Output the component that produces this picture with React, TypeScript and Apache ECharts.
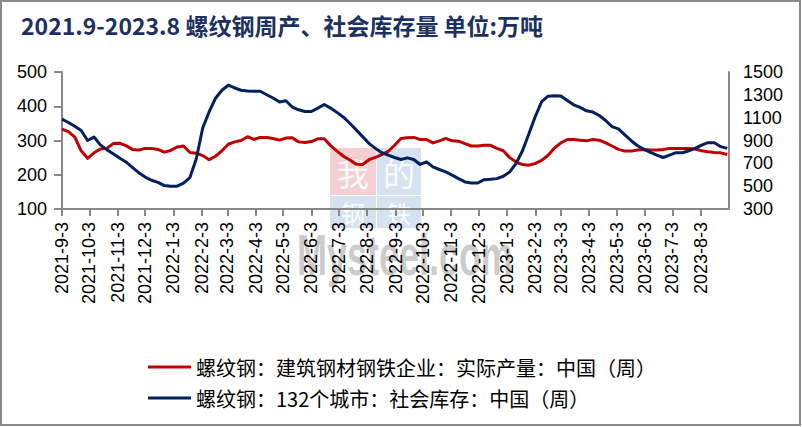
import React, { useEffect, useRef } from "react";
import * as echarts from "echarts";

// weekly values, first week = 2021-9-3
const PRODUCTION = [
  333, 326, 310, 270, 248, 264, 275, 277, 291, 292,
  285, 274, 272, 277, 277, 274, 266, 271, 281, 284,
  265, 263, 256, 244, 254, 270, 289, 296, 300, 311,
  303, 309, 309, 306, 301, 307, 308, 296, 294, 297,
  305, 305, 285, 269, 254, 243, 231, 230, 244, 251,
  259, 268, 286, 306, 308, 309, 303, 303, 293, 299,
  306, 299, 298, 291, 284, 284, 286, 286, 277, 270,
  250, 237, 230, 228, 233, 242, 257, 278, 293, 303,
  303, 301, 299, 303, 301, 293, 284, 274, 269, 269,
  272, 274, 272, 272, 274, 277, 277, 277, 277, 275,
  270, 267, 265, 264, 259,
];

const INVENTORY = [
  1087, 1058, 1025, 988, 900, 930, 862, 820, 784, 746,
  712, 664, 618, 580, 552, 533, 505, 499, 500, 526,
  575, 740, 1010, 1150, 1270, 1340, 1384, 1360, 1340, 1334,
  1331, 1331, 1301, 1272, 1237, 1248, 1193, 1169, 1154, 1154,
  1184, 1215, 1184, 1146, 1104, 1051, 993, 934, 875, 831,
  793, 772, 751, 734, 748, 734, 690, 713, 669, 646,
  625, 596, 566, 537, 528, 528, 557, 560, 566, 587,
  625, 700, 810, 960, 1110, 1240, 1288, 1293, 1290, 1251,
  1213, 1190, 1160, 1149, 1119, 1075, 1022, 1001, 949, 898,
  854, 822, 796, 772, 751, 772, 793, 793, 810, 831,
  860, 881, 881, 846, 831,
];

const X_LABELS = [
  "2021-9-3", "2021-10-3", "2021-11-3", "2021-12-3",
  "2022-1-3", "2022-2-3", "2022-3-3", "2022-4-3", "2022-5-3", "2022-6-3",
  "2022-7-3", "2022-8-3", "2022-9-3", "2022-10-3", "2022-11-3", "2022-12-3",
  "2023-1-3", "2023-2-3", "2023-3-3", "2023-4-3", "2023-5-3", "2023-6-3",
  "2023-7-3", "2023-8-3",
];

const SERIES_NAMES = [
  "螺纹钢：建筑钢材钢铁企业：实际产量：中国（周）",
  "螺纹钢：132个城市：社会库存：中国（周）",
];

const TITLE = "2021.9-2023.8 螺纹钢周产、社会库存量 单位:万吨";

// x axis runs in days counted from 2021-9-3
const DAY = 86400000;
const dayOf = (s: string) => {
  const [y, m, d] = s.split("-").map(Number);
  return Math.round((Date.UTC(y, m - 1, d) - Date.UTC(2021, 8, 3)) / DAY);
};

const WEEK_DAYS = PRODUCTION.map((_, i) => i * 7);
const TICK_DAYS = X_LABELS.map(dayOf);
const LABEL_BY_DAY: Record<number, string> = {};
X_LABELS.forEach((s) => (LABEL_BY_DAY[dayOf(s)] = s));

const AXIS_GRAY = "#888888";
const CJK = "'Noto Sans CJK SC', sans-serif";
const LATIN = "'Liberation Sans', Arial, sans-serif";

const App: React.FC = () => {
  const chartRef = useRef<HTMLDivElement | null>(null);

  useEffect(() => {
    if (!chartRef.current) return;
    const chart = echarts.init(chartRef.current, undefined, { renderer: "svg" });

    // watermark tile: coloured square with a pale character on it
    const wmBlock = (
      x: number, y: number, w: number, h: number,
      fill: string, ch: string, size: number
    ) => ({
      type: "group",
      z: -10,
      children: [
        { type: "rect", shape: { x, y, width: w, height: h }, style: { fill }, z: -10 },
        {
          type: "text",
          x: x + w / 2,
          y: y + h / 2,
          z: -9,
          style: {
            text: ch,
            fill: "rgba(255,255,255,0.9)",
            font: `${size}px ${CJK}`,
            lineHeight: size,
            align: "center",
            verticalAlign: "middle",
          },
        },
      ],
    });

    const option: echarts.EChartsOption = {
      animation: false,
      backgroundColor: "#ffffff",
      title: {
        text: TITLE,
        left: 16,
        top: 8,
        textStyle: {
          fontSize: 23,
          fontWeight: "bold",
          color: "#1c315f",
          fontFamily: CJK,
        },
      },
      grid: { left: 62, right: 73, top: 72, bottom: 218 },
      legend: {
        orient: "vertical",
        left: 143,
        top: 352,
        itemWidth: 43,
        itemHeight: 3,
        itemGap: 11,
        icon: "rect",
        selectedMode: false,
        data: SERIES_NAMES,
        textStyle: { fontSize: 20, lineHeight: 20, color: "#000", fontFamily: CJK },
      },
      xAxis: {
        type: "value",
        min: 0,
        max: dayOf("2023-9-3"),
        splitLine: { show: false },
        axisLine: { onZero: false, lineStyle: { color: AXIS_GRAY, width: 2 } },
        axisTick: {
          show: true,
          length: 7,
          customValues: TICK_DAYS,
          lineStyle: { color: AXIS_GRAY, width: 2 },
        } as any,
        axisLabel: {
          rotate: 90,
          margin: 13,
          fontSize: 18,
          color: "#000",
          fontFamily: LATIN,
          customValues: TICK_DAYS,
          formatter: (v: number) => LABEL_BY_DAY[Math.round(v)] ?? "",
        } as any,
      },
      yAxis: [
        {
          type: "value",
          min: 100,
          max: 500,
          interval: 100,
          splitLine: { show: false },
          axisLine: { show: true, lineStyle: { color: AXIS_GRAY, width: 2 } },
          axisTick: { show: true, length: 8, lineStyle: { color: AXIS_GRAY, width: 2 } },
          axisLabel: {
            margin: 15,
            fontSize: 18,
            color: "#000",
            fontFamily: LATIN,
            formatter: (v: number) => String(v),
          },
        },
        {
          type: "value",
          position: "right",
          min: 300,
          max: 1500,
          interval: 200,
          splitLine: { show: false },
          axisLine: { show: true, lineStyle: { color: AXIS_GRAY, width: 2 } },
          axisTick: { show: false },
          axisLabel: {
            margin: 14,
            fontSize: 18,
            color: "#000",
            fontFamily: LATIN,
            formatter: (v: number) => String(v),
          },
        },
      ],
      graphic: [
        wmBlock(330, 148, 46, 47, "rgba(226,120,128,0.35)", "我", 32),
        wmBlock(377, 148, 44, 47, "rgba(150,180,215,0.38)", "的", 32),
        wmBlock(330, 196, 46, 32, "rgba(150,180,215,0.38)", "钢", 24),
        wmBlock(377, 196, 44, 32, "rgba(150,180,215,0.38)", "铁", 24),
        {
          type: "text",
          x: 297,
          y: 226,
          z: -8,
          scaleX: 0.62,
          style: {
            text: "Mysteel.com",
            fill: "rgba(140,140,140,0.45)",
            font: `bold 58px ${LATIN}`,
          },
        },
        {
          type: "rect",
          shape: { x: 1, y: 1, width: 799, height: 424 },
          style: { fill: "none", stroke: "#8a8a8a", lineWidth: 2 },
          z: 100,
        },
      ] as any,
      series: [
        {
          name: SERIES_NAMES[0],
          type: "line",
          yAxisIndex: 0,
          data: WEEK_DAYS.map((d, i) => [d, PRODUCTION[i]]),
          showSymbol: false,
          color: "#c00000",
          lineStyle: { width: 3, color: "#c00000", join: "round" },
          z: 3,
        },
        {
          name: SERIES_NAMES[1],
          type: "line",
          yAxisIndex: 1,
          data: WEEK_DAYS.map((d, i) => [d, INVENTORY[i]]),
          showSymbol: false,
          color: "#002060",
          lineStyle: { width: 3, color: "#002060", join: "round" },
          z: 4,
        },
      ],
    };

    chart.setOption(option);
    return () => chart.dispose();
  }, []);

  return (
    <div
      ref={chartRef}
      style={{ position: "fixed", left: 0, top: 0, width: 802, height: 427, background: "#fff" }}
    />
  );
};

export default App;
